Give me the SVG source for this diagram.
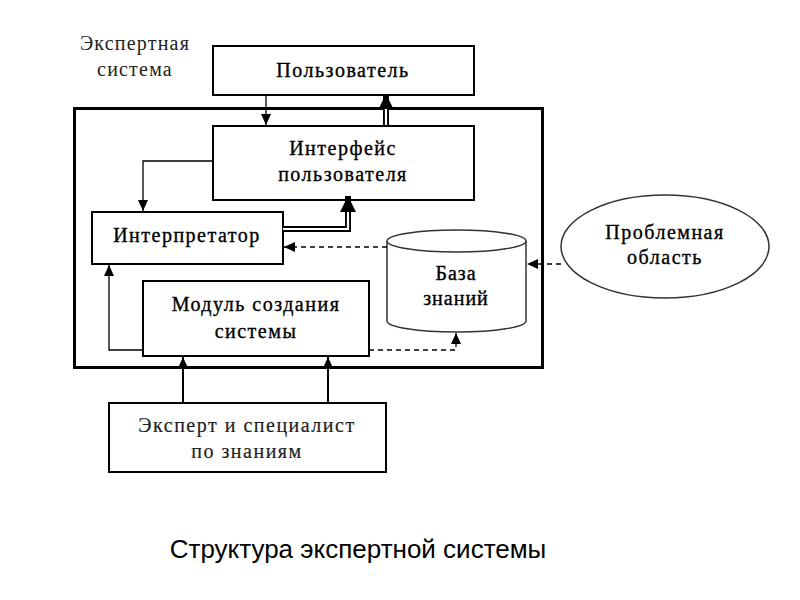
<svg xmlns="http://www.w3.org/2000/svg" width="800" height="600" viewBox="0 0 800 600">
<defs>
<style>
.box{fill:#fff;stroke:#000;stroke-width:2}
.t{font-family:"Liberation Serif","Times New Roman",serif;font-size:20px;fill:#000;stroke:#000;stroke-width:0.35;text-anchor:middle;letter-spacing:1.5px}
.ln{fill:none;stroke:#000;stroke-width:1.3}
.dash{fill:none;stroke:#000;stroke-width:1.3;stroke-dasharray:5 4}
.dbl{fill:none;stroke:#000;stroke-width:6;stroke-linejoin:miter}
.dblw{fill:none;stroke:#fff;stroke-width:2.2;stroke-linejoin:miter}
</style>
<marker id="a" markerUnits="userSpaceOnUse" markerWidth="12" markerHeight="12" viewBox="0 0 12 12" refX="11" refY="6" orient="auto">
<path d="M0,1 L11,6 L0,11 Z" fill="#000"/>
</marker>
<marker id="ab" markerUnits="userSpaceOnUse" markerWidth="18" markerHeight="18" viewBox="0 0 18 18" refX="16" refY="9" orient="auto">
<path d="M0,1 L16,9 L0,17 Z" fill="#000"/>
</marker>
</defs>
<rect width="800" height="600" fill="#fff"/>

<g id="label-es">
<text x="135" y="50" class="t" style="letter-spacing:1.2px;fill:#222;stroke:none">Экспертная</text>
<text x="135" y="76" class="t" style="letter-spacing:1.2px;fill:#222;stroke:none">система</text>
</g>

<g id="system-boundary">
<rect x="74.5" y="108.5" width="468" height="259" fill="none" stroke="#000" stroke-width="3"/>
</g>

<g id="user">
<rect class="box" x="213" y="46" width="261" height="49"/>
<text x="343" y="77" class="t">Пользователь</text>
</g>

<g id="interface">
<rect class="box" x="213" y="126" width="261" height="74"/>
<text x="343" y="155" class="t">Интерфейс</text>
<text x="343" y="181" class="t">пользователя</text>
</g>

<g id="interpreter">
<rect class="box" x="92" y="212" width="191" height="52"/>
<text x="187" y="242" class="t">Интерпретатор</text>
</g>

<g id="module">
<rect class="box" x="143" y="281" width="226" height="75"/>
<text x="256" y="311" class="t">Модуль создания</text>
<text x="256" y="338" class="t">системы</text>
</g>

<g id="knowledge-base">
<path d="M387,241 V321 A69.5,11 0 0 0 526,321 V241" fill="#fff" stroke="#333" stroke-width="1.5"/>
<ellipse cx="456.5" cy="241" rx="69.5" ry="11" fill="#fff" stroke="#333" stroke-width="1.5"/>
<text x="456" y="280" class="t" style="letter-spacing:1px">База</text>
<text x="456" y="305" class="t" style="letter-spacing:1px">знаний</text>
</g>

<g id="problem-area">
<ellipse cx="665" cy="246.5" rx="104" ry="51.5" fill="#fff" stroke="#333" stroke-width="1.5"/>
<text x="665" y="239" class="t">Проблемная</text>
<text x="665" y="264" class="t">область</text>
</g>

<g id="expert">
<rect class="box" x="109" y="403" width="277" height="69"/>
<text x="247" y="432" class="t" style="fill:#222;stroke:#222;stroke-width:0.2">Эксперт и специалист</text>
<text x="247" y="458" class="t" style="fill:#222;stroke:#222;stroke-width:0.2">по знаниям</text>
</g>

<g id="connectors">
<path class="ln" d="M266,96 V125" marker-end="url(#a)"/>
<path class="dbl" d="M386,126 V94" marker-end="url(#ab)"/>
<path class="dblw" d="M386,125 V109"/>
<path class="ln" d="M213,161 H143 V211" marker-end="url(#a)"/>
<path class="dbl" d="M283,229 H348 V196" marker-end="url(#ab)"/>
<path class="dblw" d="M283,229 H348 V212"/>
<path class="dash" d="M387,247 H284" marker-end="url(#a)"/>
<path class="dash" d="M561,264 H527" marker-end="url(#a)"/>
<path class="ln" d="M143,350 H109 V265" marker-end="url(#a)"/>
<path class="dash" d="M369,350 H456 V333" marker-end="url(#a)"/>
<path class="ln" style="stroke-width:2" d="M183,403 V357" marker-end="url(#a)"/>
<path class="ln" style="stroke-width:2" d="M328,403 V357" marker-end="url(#a)"/>
</g>

<g id="caption">
<text x="358" y="558" style="font-family:'Liberation Sans',Arial,sans-serif;font-size:26px;fill:#000;text-anchor:middle">Структура экспертной системы</text>
</g>
</svg>
